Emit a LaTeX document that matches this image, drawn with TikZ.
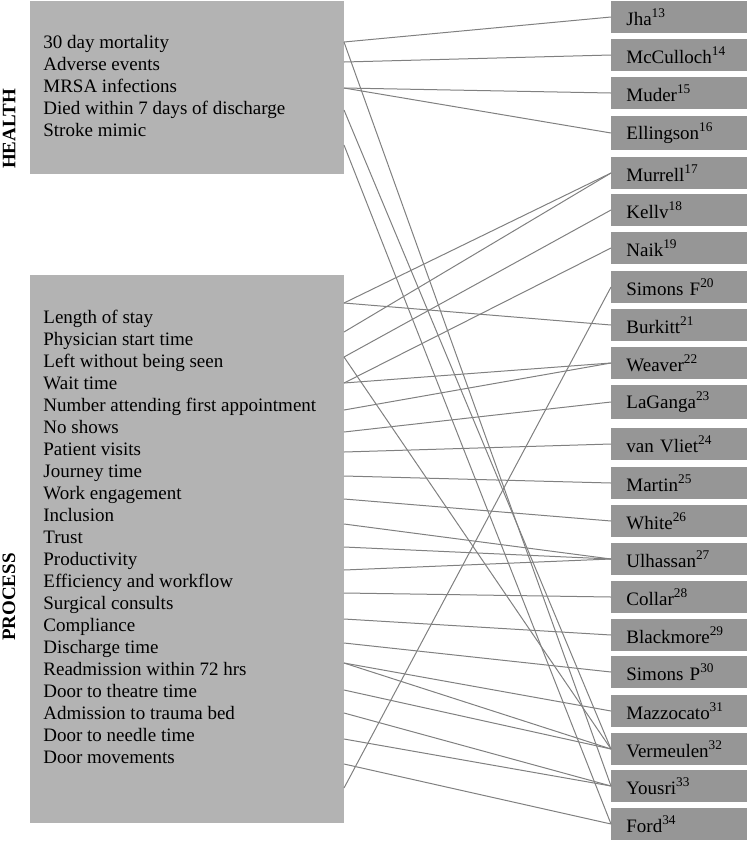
\documentclass[tikz,border=0pt]{standalone}
\usepackage{fontspec}
\setmainfont{Liberation Serif}
\definecolor{groupgray}{HTML}{B3B3B3}
\definecolor{refgray}{HTML}{969696}
\definecolor{linkgray}{HTML}{808080}

\begin{document}
\begin{tikzpicture} [
  x=0.5pt, y=-0.5pt,
  every node/.style={font=\fontsize{9.5}{11}\selectfont},
  group/.style={fill=groupgray,anchor=north west,inner sep=0},
  items/.style={align=left,anchor=west,inner sep=0},
  ref/.style={fill=refgray,anchor=west,text width=53pt,inner xsep=7.5pt,minimum height=16pt,align=left},
  side/.style={rotate=90,font=\fontsize{9.5}{11}\selectfont\bfseries},
  link/.style={draw=linkgray,line width=0.5pt}
  ]
  \useasboundingbox (0,0) rectangle (750,842);

  % outcome groups
  \node (health) [group,minimum width=157pt,minimum height=86.5pt] at (30,1) {};
  \node (process) [group,minimum width=157pt,minimum height=274pt] at (30,275) {};
  \node (healthlabel) [side] at (9,129) {HEALTH};
  \node (processlabel) [side] at (9,597) {PROCESS};

  \node (healthitems) [items] at (43,86) {30 day mortality\\Adverse events\\MRSA infections\\
    Died within 7 days of discharge\\Stroke mimic};
  \node (processitems) [items] at (43,537) {Length of stay\\Physician start time\\
    Left without being seen\\Wait time\\Number attending first appointment\\No shows\\
    Patient visits\\Journey time\\Work engagement\\Inclusion\\Trust\\Productivity\\
    Efficiency and workflow\\Surgical consults\\Compliance\\Discharge time\\
    Readmission within 72 hrs\\Door to theatre time\\Admission to trauma bed\\
    Door to needle time\\Door movements};

  % link points on the group edges
  \coordinate (h1) at (344,42);
  \coordinate (h2) at (344,62);
  \coordinate (h3) at (344,88);
  \coordinate (h4) at (344,110);
  \coordinate (h5) at (344,145);
  \coordinate (p1) at (344,303);
  \coordinate (p2) at (344,332);
  \coordinate (p3) at (344,357);
  \coordinate (p4) at (344,383);
  \coordinate (p5) at (344,410);
  \coordinate (p6) at (344,432);
  \coordinate (p7) at (344,452);
  \coordinate (p8) at (344,476);
  \coordinate (p9) at (344,499);
  \coordinate (p10) at (344,524);
  \coordinate (p11) at (344,547);
  \coordinate (p12) at (344,570);
  \coordinate (p13) at (344,593);
  \coordinate (p14) at (344,619);
  \coordinate (p15) at (344,643);
  \coordinate (p16) at (344,663);
  \coordinate (p17) at (344,690);
  \coordinate (p18) at (344,713);
  \coordinate (p19) at (344,739);
  \coordinate (p20) at (344,764);
  \coordinate (p21) at (344,788);

  % studies
  \node (jha) [ref] at (611,17) {Jha\textsuperscript{13}};
  \node (mcculloch) [ref] at (611,55) {McCulloch\textsuperscript{14}};
  \node (muder) [ref] at (611,93) {Muder\textsuperscript{15}};
  \node (ellingson) [ref] at (611,133) {Ellingson\textsuperscript{16}};
  \node (murrell) [ref] at (611,173) {Murrell\textsuperscript{17}};
  \node (kelly) [ref] at (611,210) {Kellv\textsuperscript{18}};
  \node (naik) [ref] at (611,248) {Naik\textsuperscript{19}};
  \node (simonsf) [ref] at (611,287) {Simons F\textsuperscript{20}};
  \node (burkitt) [ref] at (611,325) {Burkitt\textsuperscript{21}};
  \node (weaver) [ref] at (611,363) {Weaver\textsuperscript{22}};
  \node (laganga) [ref] at (611,402) {LaGanga\textsuperscript{23}};
  \node (vanvliet) [ref] at (611,444) {van Vliet\textsuperscript{24}};
  \node (martin) [ref] at (611,483) {Martin\textsuperscript{25}};
  \node (white) [ref] at (611,521) {White\textsuperscript{26}};
  \node (ulhassan) [ref] at (611,559) {Ulhassan\textsuperscript{27}};
  \node (collar) [ref] at (611,597) {Collar\textsuperscript{28}};
  \node (blackmore) [ref] at (611,635) {Blackmore\textsuperscript{29}};
  \node (simonsp) [ref] at (611,672) {Simons P\textsuperscript{30}};
  \node (mazzocato) [ref] at (611,711) {Mazzocato\textsuperscript{31}};
  \node (vermeulen) [ref] at (611,749) {Vermeulen\textsuperscript{32}};
  \node (yousri) [ref] at (611,786) {Yousri\textsuperscript{33}};
  \node (ford) [ref] at (611,824) {Ford\textsuperscript{34}};

  % links
  \draw [link] (h1) -- (jha.west);
  \draw [link] (h1) -- (yousri.west);
  \draw [link] (h2) -- (mcculloch.west);
  \draw [link] (h3) -- (muder.west);
  \draw [link] (h3) -- (ellingson.west);
  \draw [link] (h4) -- (vermeulen.west);
  \draw [link] (h5) -- (ford.west);
  \draw [link] (p1) -- (murrell.west);
  \draw [link] (p1) -- (burkitt.west);
  \draw [link] (p2) -- (murrell.west);
  \draw [link] (p3) -- (kelly.west);
  \draw [link] (p3) -- (vermeulen.west);
  \draw [link] (p4) -- (naik.west);
  \draw [link] (p4) -- (weaver.west);
  \draw [link] (p5) -- (weaver.west);
  \draw [link] (p6) -- (laganga.west);
  \draw [link] (p7) -- (vanvliet.west);
  \draw [link] (p8) -- (martin.west);
  \draw [link] (p9) -- (white.west);
  \draw [link] (p10) -- (ulhassan.west);
  \draw [link] (p11) -- (ulhassan.west);
  \draw [link] (p12) -- (ulhassan.west);
  \draw [link] (p13) -- (collar.west);
  \draw [link] (p14) -- (blackmore.west);
  \draw [link] (p15) -- (simonsp.west);
  \draw [link] (p16) -- (mazzocato.west);
  \draw [link] (p16) -- (vermeulen.west);
  \draw [link] (p17) -- (vermeulen.west);
  \draw [link] (p18) -- (yousri.west);
  \draw [link] (p19) -- (yousri.west);
  \draw [link] (p20) -- (ford.west);
  \draw [link] (p21) -- (simonsf.west);
\end{tikzpicture}
\end{document}
